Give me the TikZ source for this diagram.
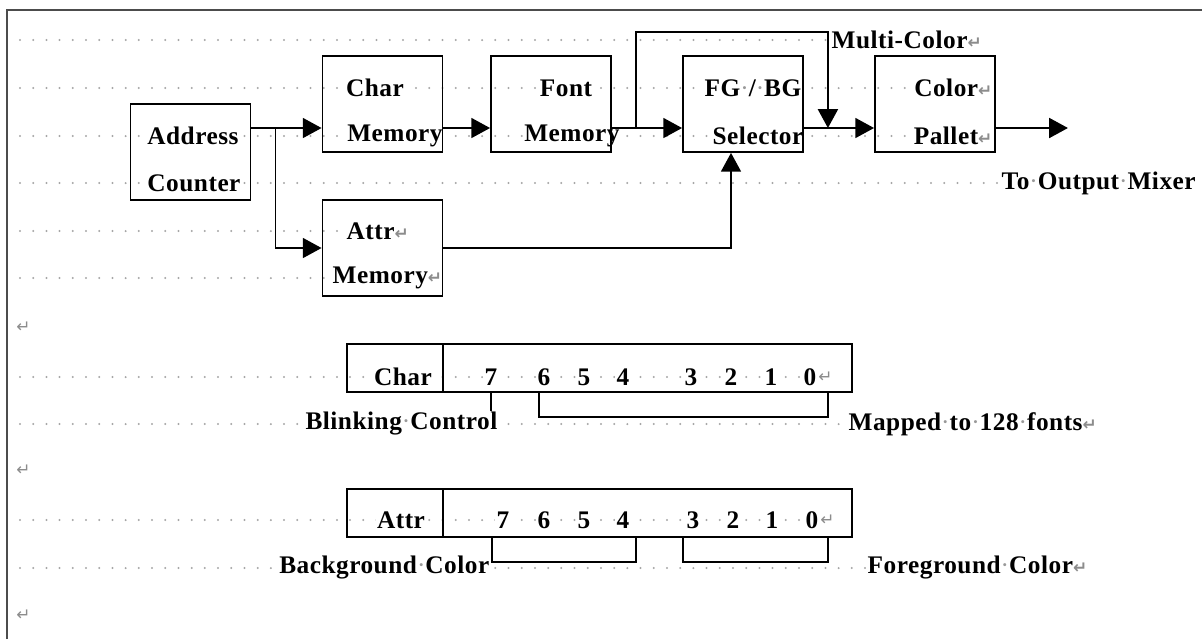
\documentclass[tikz,border=0pt]{standalone}
\usepackage{fontspec}
\setmainfont{Liberation Serif}[LetterSpace=2]
\newfontfamily\markfont{DejaVu Sans}
\usepackage{xcolor}
\usetikzlibrary{arrows.meta,calc}

\newcommand{\retmark}{{\markfont\fontsize{12}{12}\selectfont\textcolor{black!45}{↵}}}
\newcommand{\spdot}{{\mdseries\textcolor{black!40}{·}}}

\tikzset{
  blk/.style={draw, line width=1.3pt, minimum width=3cm, minimum height=2.4cm, inner sep=0pt},
  cell/.style={draw, line width=1.3pt, minimum height=1.2cm, inner sep=0pt},
  txt/.style={fill=white, inner sep=1pt, font=\bfseries\fontsize{18}{20}\selectfont},
  arr/.style={line width=1.3pt, -{Triangle[length=0.47cm,width=0.5cm]}},
  brk/.style={line width=1.3pt},
  dotrow/.style={black!35, line width=1.6pt, line cap=round, dash pattern=on 0pt off 0.33cm}
}

\begin{document}
\begin{tikzpicture}[x=0.025cm, y=-0.025cm]
      \useasboundingbox (0,0) rectangle (1202,639);

      % page frame and paragraph rows
      \draw[line width=1.6pt, black!70] (7,639) -- (7,10) -- (1202,10);
      \foreach \y/\xe in {40/828, 88/916, 136/911, 183/1000, 231/347, 278/333,
                          377/820, 424/847, 520/812, 568/866}
        \draw[dotrow] (20,\y) -- (\xe,\y);
      \foreach \y in {327,470,615}
        \node[anchor=west, inner sep=0pt] (ret-\y) at (16,\y) {\retmark};

      % block labels
      \node[txt] (t-addr) at (193,136) {Address};
      \node[txt] (t-cnt)  at (194,183) {Counter};
      \node[txt] (t-char) at (375,88)  {Char};
      \node[txt] (t-cmem) at (395,136) {Memory};
      \node[txt, anchor=west] (t-attr) at (345,231) {Attr\retmark};
      \node[txt, anchor=west] (t-amem) at (331,278) {Memory\retmark};
      \node[txt] (t-font) at (566,88)  {Font};
      \node[txt] (t-fmem) at (572,136) {Memory};
      \node[txt] (t-fgbg) at (753,88)  {FG\spdot/\spdot BG};
      \node[txt] (t-sel)  at (758,136) {Selector};
      \node[txt, anchor=east] (t-col) at (994,88)  {Color\retmark};
      \node[txt, anchor=east] (t-pal) at (994,136) {Pallet\retmark};
      \node[txt, anchor=west] (t-multi) at (830,40)  {Multi-Color\retmark};
      \node[txt, anchor=west] (t-out)   at (1000,183) {To\spdot Output\spdot Mixer};

      % blocks
      \node[blk] (addr)    at (190.5,152) {};
      \node[blk] (charmem) at (382.5,104) {};
      \node[blk] (attrmem) at (382.5,248) {};
      \node[blk] (fontmem) at (551,104) {};
      \node[blk] (sel)     at (743,104) {};
      \node[blk] (pal)     at (935,104) {};
      \coordinate (mc)  at ($(sel.east)+(24,24)$);
      \coordinate (out) at ($(pal.east)+(72,24)$);

      \draw[arr] ($(addr.east)+(0,-24)$) -- ($(charmem.west)+(0,24)$);
      \draw[arr] ($(addr.east)+(24,-24)$) |- (attrmem.west);
      \draw[arr] ($(charmem.east)+(0,24)$) -- ($(fontmem.west)+(0,24)$);
      \draw[arr] ($(fontmem.east)+(0,24)$) -- ($(sel.west)+(0,24)$);
      \draw[arr] ($(fontmem.east)+(24,24)$) -- ++(0,-96) -| (mc);
      \draw[arr] ($(sel.east)+(0,24)$) -- ($(pal.west)+(0,24)$);
      \draw[arr] ($(pal.east)+(0,24)$) -- (out);
      \draw[arr] (attrmem.east) -| ($(sel.south)+(-12,0)$);

      % byte layouts
      \node[cell, minimum width=2.4cm]    (clbl)  at (395,368) {};
      \node[cell, minimum width=10.225cm] (cbits) at (647.5,368) {};
      \node[cell, minimum width=2.4cm]    (albl)  at (395,513) {};
      \node[cell, minimum width=10.225cm] (abits) at (647.5,513) {};
      \node[txt] (t-cbyte) at (403,377) {Char};
      \node[txt] (t-abyte) at (401,520) {Attr};
      \foreach \b/\x in {7/491, 6/544, 5/584, 4/623, 3/691, 2/731, 1/771, 0/810}
        \node[txt] (cb\b) at (\x,377) {\b};
      \foreach \b/\x in {7/503, 6/544, 5/584, 4/623, 3/693, 2/733, 1/772, 0/812}
        \node[txt] (ab\b) at (\x,520) {\b};
      \node[anchor=west, inner sep=0pt] (cret) at (cb0.east) {\retmark};
      \node[anchor=west, inner sep=0pt] (aret) at (ab0.east) {\retmark};

      \draw[brk] (cb7 |- cbits.south) -- ++(0,23);
      \draw[brk] ($(cb6 |- cbits.south)+(-5,0)$) -- ++(0,24) -| ($(cb0 |- cbits.south)+(18,0)$);
      \draw[brk] ($(ab7 |- abits.south)+(-11,0)$) -- ++(0,24) -| ($(ab4 |- abits.south)+(13,0)$);
      \draw[brk] ($(ab3 |- abits.south)+(-10,0)$) -- ++(0,24) -| ($(ab0 |- abits.south)+(16,0)$);

      \node[txt, anchor=east] (t-blink) at (499,424) {Blinking\spdot Control};
      \node[txt, anchor=west] (t-map) at (847,424) {Mapped\spdot to\spdot 128\spdot fonts\retmark};
      \node[txt, anchor=east] (t-bg) at (491,568) {Background\spdot Color};
      \node[txt, anchor=west] (t-fg) at (866,568) {Foreground\spdot Color\retmark};
    \end{tikzpicture}
\end{document}
